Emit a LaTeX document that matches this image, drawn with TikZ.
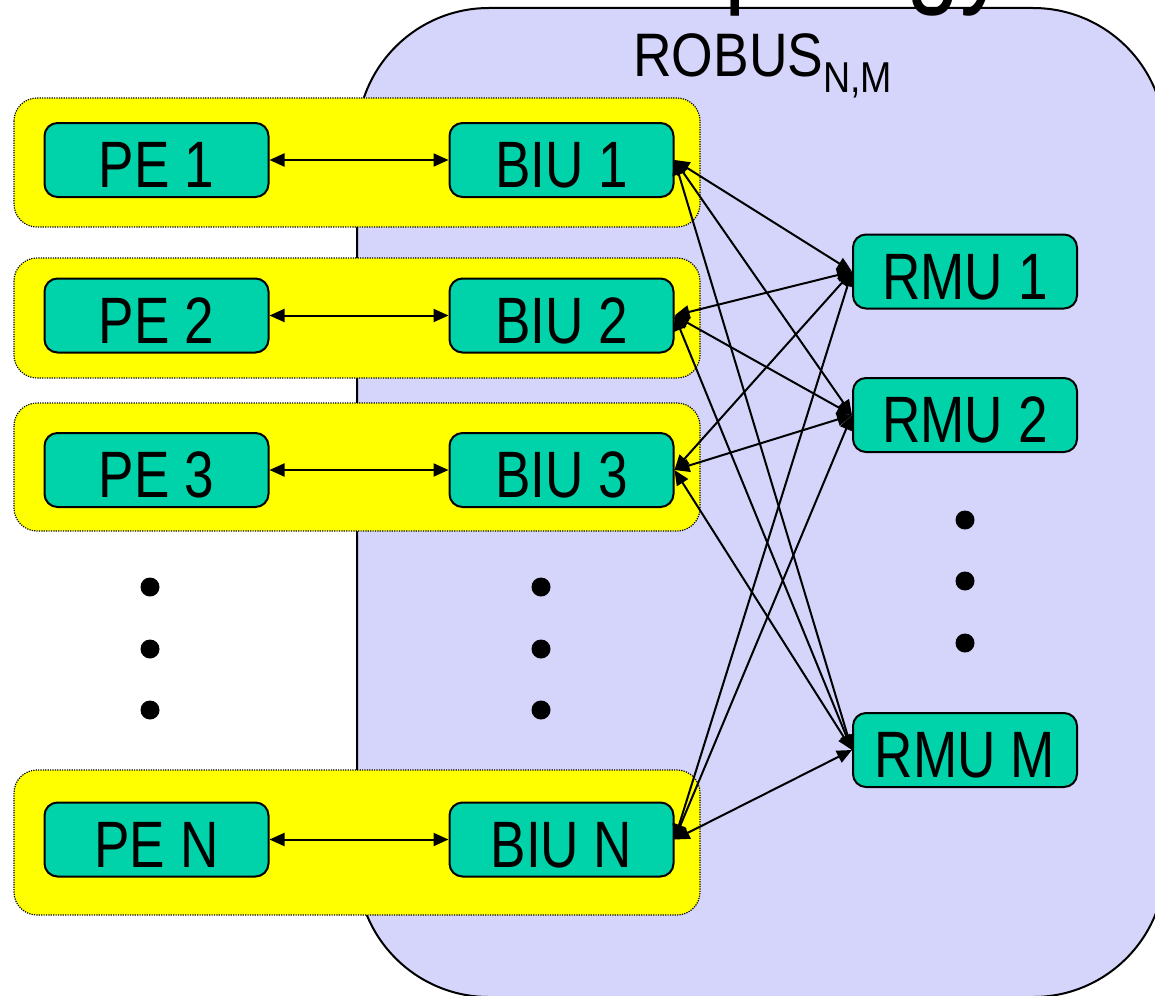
\documentclass[tikz,border=0pt]{standalone}
\usepackage{fontspec}
\setmainfont{Liberation Sans}
\newfontfamily\unitfont[FakeStretch=0.81]{Liberation Sans}
\newfontfamily\busfont[FakeStretch=0.87]{Liberation Sans}
\usetikzlibrary{arrows.meta}
\definecolor{busblue}{HTML}{D5D5FC}
\definecolor{unitgreen}{HTML}{00D2AA}
\definecolor{groupyellow}{HTML}{FFFF00}

\begin{document}
\begin{tikzpicture}[x=0.5pt, y=-0.5pt,
  unitbox/.style={draw=black, line width=1pt, fill=unitgreen, rounded corners=6.5pt,
    minimum width=112pt, minimum height=37pt, inner sep=0pt,
    text height=27.5pt, text depth=0pt, font=\unitfont\fontsize{32.8pt}{36pt}\selectfont},
  groupbox/.style={fill=groupyellow, draw=black, line width=0.6pt,
    dash pattern=on 0.6pt off 0.6pt, rounded corners=11.5pt},
  link/.style={line width=1pt, {Triangle[length=7.5pt,width=6.5pt]}-{Triangle[length=7.5pt,width=6.5pt]}}]
\useasboundingbox (0,0) rectangle (1155,995);
\fill[white] (0,0) rectangle (1155,995);
\clip (0,0) rectangle (1155,995);

% Bus area
\draw[fill=busblue, line width=1pt, rounded corners=66pt] (357,8) rectangle (1165,997);
\node[anchor=base west, inner sep=0pt, font=\unitfont\fontsize{59.6pt}{64pt}\selectfont] (title) at (622,-8) {Topology};
\node[anchor=base west, inner sep=0pt, font=\busfont\fontsize{30.7pt}{34pt}\selectfont] (robus) at (633,76)
  {ROBUS\raisebox{-8.5pt}{\fontsize{21.6pt}{24pt}\selectfont N,M}};

% Processor groups
\draw[groupbox] (14,98) rectangle (700,227);
\draw[groupbox] (14,258) rectangle (700,378);
\draw[groupbox] (14,403) rectangle (700,531);
\draw[groupbox] (14,770) rectangle (700,915);

% Group 1
\node[unitbox] (pe1) at (156.5,160) {PE 1};
\node[unitbox] (biu1) at (561.5,160) {BIU 1};

% Group 2
\node[unitbox] (pe2) at (156.5,315.5) {PE 2};
\node[unitbox] (biu2) at (561.5,315.5) {BIU 2};

% Group 3
\node[unitbox] (pe3) at (156.5,470) {PE 3};
\node[unitbox] (biu3) at (561.5,470) {BIU 3};

% Group N
\node[unitbox] (pen) at (156.5,839.5) {PE N};
\node[unitbox] (biun) at (561.5,839.5) {BIU N};

% Memory units
\node[unitbox] (rmu1) at (965,271.5) {RMU 1};
\node[unitbox] (rmu2) at (965,415) {RMU 2};
\node[unitbox] (rmum) at (965,750) {RMU M};

% PE to BIU
\draw[link] (pe1) -- (biu1);
\draw[link] (pe2) -- (biu2);
\draw[link] (pe3) -- (biu3);
\draw[link] (pen) -- (biun);

% BIU to RMU
\draw[link] (biu1.east) -- (rmu1.west);
\draw[link] (biu1.east) -- (rmu2.west);
\draw[link] (biu1.east) -- (rmum.west);
\draw[link] (biu2.east) -- (rmu1.west);
\draw[link] (biu2.east) -- (rmu2.west);
\draw[link] (biu2.east) -- (rmum.west);
\draw[link] (biu3.east) -- (rmu1.west);
\draw[link] (biu3.east) -- (rmu2.west);
\draw[link] (biu3.east) -- (rmum.west);
\draw[link] (biun.east) -- (rmu1.west);
\draw[link] (biun.east) -- (rmu2.west);
\draw[link] (biun.east) -- (rmum.west);

% Ellipsis dots
\fill (150,587) circle (4.75pt);
\fill (150,649) circle (4.75pt);
\fill (150,710) circle (4.75pt);
\fill (541,587) circle (4.75pt);
\fill (541,649) circle (4.75pt);
\fill (541,710) circle (4.75pt);
\fill (965,520) circle (4.75pt);
\fill (965,581) circle (4.75pt);
\fill (965,643) circle (4.75pt);
\end{tikzpicture}
\end{document}
